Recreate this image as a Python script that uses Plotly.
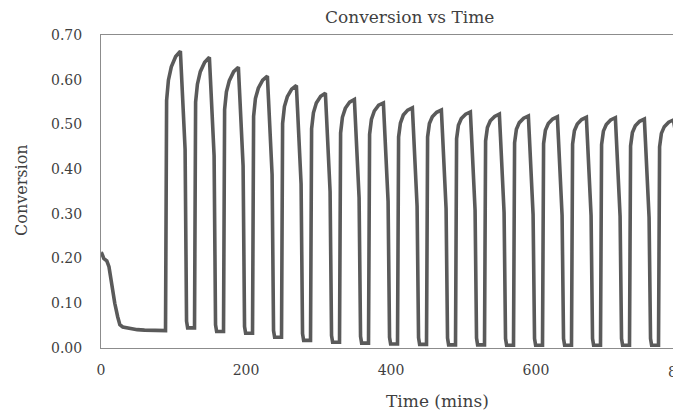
import plotly.graph_objects as go

# ---- data ----
initial_time = [0, 1, 4, 8, 11, 13, 15, 19, 23, 26, 30, 40, 50, 60, 70, 80, 88.5]
initial_conv = [0.213, 0.212, 0.200, 0.195, 0.182, 0.160, 0.135, 0.100, 0.070, 0.052,
                0.047, 0.043, 0.041, 0.040, 0.040, 0.039, 0.039]

cycle_times = [
    [89, 90.5, 93, 97, 103, 109.5, 111, 112.5, 114.5, 116, 118, 119.5],
    [129, 130.5, 133, 137, 143, 149.5, 151, 152.5, 154.5, 156, 158, 159.5],
    [169, 170.5, 173, 177, 183, 189.5, 191, 192.5, 194.5, 196, 198, 199.5],
    [209, 210.5, 213, 217, 223, 229.5, 231, 232.5, 234.5, 236, 238, 239.5],
    [249, 250.5, 253, 257, 263, 269.5, 271, 272.5, 274.5, 276, 278, 279.5],
    [289, 290.5, 293, 297, 303, 309.5, 311, 312.5, 314.5, 316, 318, 319.5],
    [329, 330.5, 333, 337, 343, 349.5, 351, 352.5, 354.5, 356, 358, 359.5],
    [369, 370.5, 373, 377, 383, 389.5, 391, 392.5, 394.5, 396, 398, 399.5],
    [409, 410.5, 413, 417, 423, 429.5, 431, 432.5, 434.5, 436, 438, 439.5],
    [449, 450.5, 453, 457, 463, 469.5, 471, 472.5, 474.5, 476, 478, 479.5],
    [489, 490.5, 493, 497, 503, 509.5, 511, 512.5, 514.5, 516, 518, 519.5],
    [529, 530.5, 533, 537, 543, 549.5, 551, 552.5, 554.5, 556, 558, 559.5],
    [569, 570.5, 573, 577, 583, 589.5, 591, 592.5, 594.5, 596, 598, 599.5],
    [609, 610.5, 613, 617, 623, 629.5, 631, 632.5, 634.5, 636, 638, 639.5],
    [649, 650.5, 653, 657, 663, 669.5, 671, 672.5, 674.5, 676, 678, 679.5],
    [689, 690.5, 693, 697, 703, 709.5, 711, 712.5, 714.5, 716, 718, 719.5],
    [729, 730.5, 733, 737, 743, 749.5, 751, 752.5, 754.5, 756, 758, 759.5],
    [769, 770.5, 773, 777, 783, 789.5, 795],
]
cycle_conv = [
    [0.039, 0.554, 0.599, 0.629, 0.652, 0.664, 0.614, 0.564, 0.519, 0.444, 0.060, 0.045],
    [0.045, 0.550, 0.590, 0.618, 0.639, 0.650, 0.600, 0.550, 0.505, 0.430, 0.052, 0.037],
    [0.037, 0.533, 0.573, 0.598, 0.618, 0.628, 0.578, 0.528, 0.483, 0.408, 0.048, 0.033],
    [0.033, 0.518, 0.558, 0.581, 0.599, 0.608, 0.558, 0.508, 0.463, 0.388, 0.039, 0.024],
    [0.024, 0.502, 0.540, 0.562, 0.579, 0.587, 0.537, 0.487, 0.442, 0.367, 0.032, 0.017],
    [0.017, 0.490, 0.526, 0.548, 0.563, 0.570, 0.520, 0.470, 0.425, 0.350, 0.028, 0.013],
    [0.013, 0.481, 0.516, 0.536, 0.550, 0.556, 0.506, 0.456, 0.411, 0.336, 0.026, 0.011],
    [0.011, 0.478, 0.511, 0.530, 0.543, 0.548, 0.498, 0.448, 0.403, 0.328, 0.024, 0.009],
    [0.009, 0.472, 0.503, 0.521, 0.532, 0.537, 0.487, 0.437, 0.392, 0.317, 0.023, 0.008],
    [0.008, 0.472, 0.502, 0.517, 0.527, 0.532, 0.482, 0.432, 0.387, 0.312, 0.022, 0.007],
    [0.007, 0.468, 0.498, 0.513, 0.523, 0.528, 0.478, 0.428, 0.383, 0.308, 0.022, 0.007],
    [0.007, 0.463, 0.493, 0.508, 0.518, 0.523, 0.473, 0.423, 0.378, 0.303, 0.021, 0.006],
    [0.006, 0.459, 0.489, 0.504, 0.514, 0.519, 0.469, 0.419, 0.374, 0.299, 0.021, 0.006],
    [0.006, 0.457, 0.487, 0.502, 0.512, 0.517, 0.467, 0.417, 0.372, 0.297, 0.021, 0.006],
    [0.006, 0.456, 0.486, 0.501, 0.511, 0.516, 0.466, 0.416, 0.371, 0.296, 0.021, 0.006],
    [0.006, 0.455, 0.485, 0.500, 0.510, 0.515, 0.465, 0.415, 0.370, 0.295, 0.021, 0.006],
    [0.006, 0.452, 0.482, 0.497, 0.507, 0.512, 0.462, 0.412, 0.367, 0.292, 0.021, 0.006],
    [0.006, 0.450, 0.480, 0.495, 0.505, 0.510, 0.460],
]

x_tick_vals = [0, 200, 400, 600]
x_tick_text = ["0", "200", "400", "600"]
y_tick_vals = [0.0, 0.1, 0.2, 0.3, 0.4, 0.5, 0.6, 0.7]
y_tick_text = ["0.00", "0.10", "0.20", "0.30", "0.40", "0.50", "0.60", "0.70"]

title_text = "Conversion vs Time"
x_title = "Time (mins)"
y_title = "Conversion"

# ---- assemble series ----
time = list(initial_time)
conv = list(initial_conv)
for t_row, c_row in zip(cycle_times, cycle_conv):
    time += t_row
    conv += c_row

TXT = "#3f3f3f"
HFONT = "DejaVu Serif"

fig = go.Figure(go.Scatter(x=time, y=conv, mode="lines",
                           line=dict(color="#5a5a5a", width=3.6),
                           showlegend=False))

fig.update_layout(
    width=673, height=411,
    margin=dict(l=101, r=0, t=35, b=63),
    plot_bgcolor="white", paper_bgcolor="white",
    xaxis=dict(range=[0, 789], tickvals=x_tick_vals, ticktext=x_tick_text,
               showline=True, linecolor="#8c8c8c", linewidth=1, mirror=True,
               showgrid=False, zeroline=False, ticks="",
               tickfont=dict(family=HFONT, size=14, color=TXT),
               ticklabelstandoff=9),
    yaxis=dict(range=[0, 0.7], tickvals=y_tick_vals, ticktext=y_tick_text,
               showline=True, linecolor="#8c8c8c", linewidth=1, mirror=False,
               showgrid=False, zeroline=False, ticks="",
               tickfont=dict(family=HFONT, size=14, color=TXT),
               ticklabelstandoff=15),
    annotations=[
        dict(text=title_text, xref="paper", yref="paper", x=0.540, y=1.0575,
             xanchor="center", yanchor="middle", showarrow=False,
             font=dict(family=HFONT, size=17, color=TXT)),
        dict(text=x_title, xref="paper", yref="paper", x=0.589, y=-0.168,
             xanchor="center", yanchor="middle", showarrow=False,
             font=dict(family=HFONT, size=17, color=TXT)),
        dict(text=y_title, xref="paper", yref="paper", x=-0.138, y=0.505,
             xanchor="center", yanchor="middle", showarrow=False, textangle=-90,
             font=dict(family=HFONT, size=16, color=TXT)),
        dict(text="800", xref="paper", yref="paper", x=1.014, y=-0.077,
             xanchor="center", yanchor="middle", showarrow=False,
             font=dict(family=HFONT, size=14, color=TXT)),
    ],
)

fig.write_html("out.html", config={"displayModeBar": False},
               post_script="document.body.style.margin='0';document.body.style.overflow='hidden';")
